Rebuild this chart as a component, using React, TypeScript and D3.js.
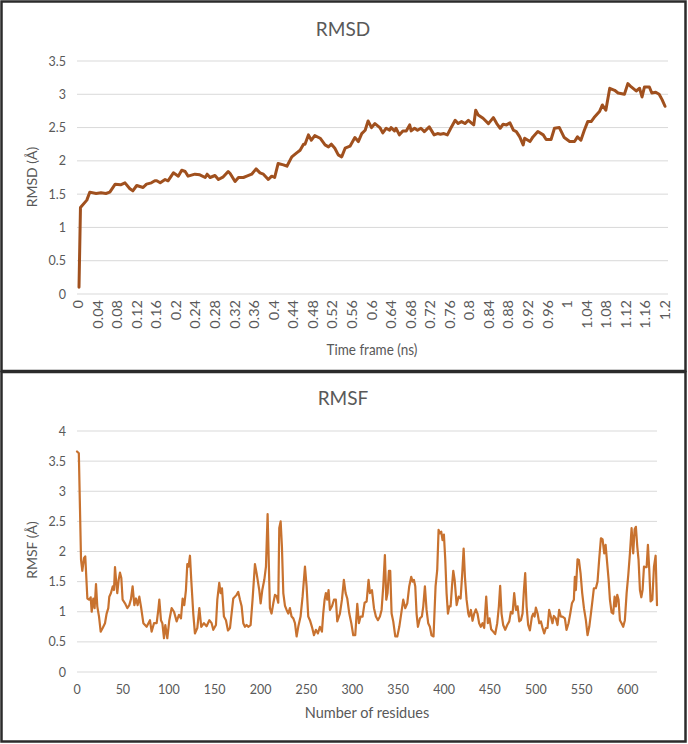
import React from "react";
import * as d3 from "d3";

// ---------- RMSD data (time in ns, value in Å) ----------
const rmsdTime = [
  0, 0.003, 0.016, 0.022, 0.035, 0.045, 0.055, 0.063, 0.074, 0.085, 0.094, 0.104, 0.11, 0.118, 0.131, 0.138,
  0.148, 0.155, 0.159, 0.166, 0.176, 0.182, 0.193, 0.203, 0.21, 0.217, 0.223, 0.237, 0.247, 0.258, 0.262,
  0.268, 0.278, 0.285, 0.295, 0.305, 0.309, 0.319, 0.326, 0.336, 0.343, 0.353, 0.362, 0.37, 0.377, 0.387,
  0.394, 0.4, 0.407, 0.418, 0.425, 0.435, 0.445, 0.452, 0.459, 0.462, 0.469, 0.475, 0.482, 0.493, 0.503,
  0.51, 0.516, 0.523, 0.53, 0.537, 0.544, 0.554, 0.564, 0.571, 0.578, 0.585, 0.591, 0.598, 0.605, 0.615,
  0.621, 0.628, 0.635, 0.638, 0.645, 0.648, 0.655, 0.662, 0.669, 0.676, 0.679, 0.686, 0.692, 0.699, 0.706,
  0.716, 0.726, 0.733, 0.739, 0.746, 0.753, 0.76, 0.769, 0.775, 0.782, 0.789, 0.796, 0.802, 0.807, 0.811,
  0.816, 0.826, 0.837, 0.847, 0.854, 0.861, 0.867, 0.874, 0.881, 0.888, 0.894, 0.901, 0.908, 0.911, 0.922,
  0.928, 0.938, 0.949, 0.955, 0.965, 0.972, 0.982, 0.992, 1.003, 1.013, 1.019, 1.026, 1.033, 1.04, 1.047,
  1.053, 1.064, 1.07, 1.077, 1.085, 1.095, 1.102, 1.115, 1.122, 1.129, 1.139, 1.146, 1.151, 1.156, 1.166,
  1.171, 1.179, 1.186, 1.192, 1.198,
];
const rmsdValue = [
  0.1, 1.3, 1.41, 1.53, 1.51, 1.52, 1.51, 1.53, 1.65, 1.64, 1.67, 1.58, 1.55, 1.63, 1.6, 1.65,
  1.67, 1.7, 1.7, 1.67, 1.72, 1.7, 1.82, 1.77, 1.86, 1.84, 1.77, 1.8, 1.79, 1.75, 1.8,
  1.75, 1.78, 1.72, 1.76, 1.84, 1.81, 1.69, 1.75, 1.75, 1.77, 1.8, 1.88, 1.82, 1.8, 1.72,
  1.77, 1.75, 1.96, 1.94, 1.92, 2.06, 2.12, 2.16, 2.25, 2.25, 2.39, 2.31, 2.38, 2.34, 2.24,
  2.21, 2.25, 2.19, 2.09, 2.06, 2.19, 2.22, 2.35, 2.29, 2.41, 2.46, 2.6, 2.5, 2.56, 2.5,
  2.42, 2.49, 2.46, 2.5, 2.45, 2.49, 2.39, 2.45, 2.45, 2.54, 2.45, 2.49, 2.46, 2.49, 2.44,
  2.51, 2.39, 2.41, 2.4, 2.41, 2.39, 2.49, 2.61, 2.56, 2.59, 2.56, 2.61, 2.57, 2.54, 2.76,
  2.69, 2.64, 2.56, 2.65, 2.56, 2.49, 2.55, 2.54, 2.57, 2.46, 2.44, 2.36, 2.24, 2.34, 2.29,
  2.36, 2.44, 2.39, 2.32, 2.32, 2.49, 2.5, 2.35, 2.29, 2.29, 2.36, 2.31, 2.46, 2.59, 2.59,
  2.65, 2.74, 2.84, 2.76, 3.09, 3.06, 3.02, 3.0, 3.16, 3.11, 3.05, 3.09, 2.96, 3.11, 3.11,
  3.02, 3.03, 3.0, 2.92, 2.82,
];
const rmsdYTicks = [0, 0.5, 1, 1.5, 2, 2.5, 3, 3.5];
const rmsdXTicks = d3.range(0, 31).map((i) => +(i * 0.04).toFixed(2));

// ---------- RMSF data (residue number, value in Å) ----------
const rmsfResidue = [
  0, 2, 4.4, 5.8, 7.6, 9, 11.3, 13.4, 14.9, 16, 17.8, 19.2, 20.7, 22.1, 24, 25.8, 28, 30.5, 32.3, 34.1,
  35.2, 37, 38.9, 40.3, 41.4, 42.8, 43.9, 45.4, 46.8, 48.3, 49.7, 52.3, 54.8, 57, 58.8, 60.6, 62.5, 64.3,
  66.1, 67.9, 69.7, 72.3, 75.9, 79.5, 81.3, 83.9, 86.8, 88.6, 89.7, 91.5, 93, 94.8, 96.2, 98.4, 100.6,
  103.1, 105.7, 108.6, 111.1, 113.3, 115.1, 116.9, 118.7, 120.2, 121.6, 123.1, 124.5, 126.7, 128.5, 131.1,
  133.3, 135.4, 138.3, 141.2, 144.2, 146.7, 148.5, 151.4, 152.9, 155, 156.5, 158, 160.1, 162.3, 164.5,
  166.7, 170.3, 173.9, 175.7, 177.6, 179.4, 181.2, 183, 184.8, 186.6, 189.2, 191.3, 193.9, 195.7, 198.6,
  200.1, 201.9, 204.1, 205.9, 207.7, 209.1, 210.2, 212, 213.9, 215.7, 217.5, 219.3, 220.4, 221.9, 223.3,
  224.8, 226.6, 228.4, 230.2, 232, 233.8, 235.7, 237.5, 239.3, 241.1, 243.6, 245.8, 248.4, 250.2, 252,
  253.8, 256, 258.2, 260.3, 262.5, 264.7, 266.9, 268.3, 269.8, 271.2, 272.7, 274.1, 275.6, 277.8, 280,
  282.1, 283.6, 286.5, 288.7, 290.8, 292.7, 294.5, 296.7, 298.9, 301, 303.2, 305.4, 307.2, 309, 311.2,
  313.4, 315.6, 317.7, 319.2, 321.4, 323.6, 325.7, 327.9, 330.1, 331.9, 333.7, 335.5, 337, 338.4, 339.9,
  341.3, 342.8, 344.6, 346.8, 349, 351.2, 353.3, 355.5, 357.7, 359.9, 362, 364.2, 365.7, 367.1, 368.6,
  370, 371.5, 373.7, 375.8, 377.3, 379.1, 380.9, 382.7, 384.5, 386.3, 388.5, 390.7, 392.5, 394, 395.4,
  396.9, 398.3, 399.8, 401.3, 402.7, 404.2, 405.7, 407.1, 408.6, 410, 411.5, 413.7, 415.8, 418, 419.8,
  421.3, 422.7, 424.5, 426.4, 427.4, 429.2, 431, 432.8, 434.6, 436.4, 438.2, 440, 441.9, 443.7, 445.9,
  447.7, 449.5, 451.3, 453.5, 455.7, 457.9, 459.7, 461.1, 462.6, 464.4, 466.6, 468.8, 471, 472.8, 474.6,
  476.4, 478.3, 480.1, 481.9, 483.7, 485.5, 487, 488.4, 489.9, 491.6, 493.5, 495.7, 497.1, 498.6, 500,
  501.9, 503.7, 505.5, 507.3, 509.1, 510.9, 512.7, 514.5, 516.3, 518.1, 519.6, 521.8, 523.6, 525.4, 527.2,
  529, 531.6, 533.4, 535.6, 537.5, 539.3, 541.4, 542.5, 543.6, 545.4, 546.9, 548.7, 550.5, 552.4, 554.5,
  556.3, 558.2, 560, 561.8, 563.2, 565.4, 567.2, 569, 570.9, 572.7, 574.5, 576, 577.4, 579.3, 580.7,
  582.5, 584.3, 585.8, 587.2, 588.7, 590.1, 591.6, 593.4, 595.2, 597, 598.9, 600.7, 602.5, 604.3, 606.1,
  607.6, 609, 610.5, 611.9, 613.4, 614.9, 616.3, 617.8, 619.2, 620.7, 622.1, 623.6, 625, 626.9, 628.7,
  630.5, 632,
];
const rmsfValue = [
  3.66, 3.63, 1.86, 1.68, 1.89, 1.92, 1.22, 1.2, 1.24, 1.0, 1.22, 1.06, 1.46, 1.09, 0.92, 0.67, 0.73, 0.81, 0.97, 1.06,
  1.25, 1.31, 1.42, 1.36, 1.74, 1.48, 1.31, 1.53, 1.65, 1.56, 1.2, 1.14, 1.06, 1.11, 1.21, 1.42, 1.11, 1.22,
  1.11, 1.25, 1.09, 0.81, 0.75, 0.86, 0.67, 0.81, 0.81, 1.03, 1.2, 0.86, 0.81, 0.56, 0.78, 0.56, 0.86,
  1.06, 1.0, 0.84, 0.95, 0.89, 1.22, 1.11, 1.36, 1.79, 1.75, 1.93, 1.53, 0.97, 0.64, 0.73,
  1.06, 0.75, 0.81, 0.76, 0.86, 0.81, 0.7, 0.78, 1.2, 1.48, 1.31, 1.39, 0.92, 0.86, 0.69,
  0.73, 1.22, 1.28, 1.33, 1.2, 1.09, 0.81, 0.75, 0.78, 0.75, 0.78, 1.2, 1.79, 1.64, 1.36,
  1.14, 1.36, 1.53, 1.75, 2.62, 1.75, 1.06, 0.97, 1.14, 1.28, 1.26, 1.15, 2.39, 2.5, 2.08,
  1.31, 1.1, 1.03, 0.97, 1.06, 0.92, 0.89, 0.81, 0.59, 0.75, 0.92, 1.25, 1.75, 1.42, 0.92,
  0.86, 0.75, 0.61, 0.7, 0.64, 0.75, 0.67, 0.97, 1.2, 1.31, 1.2, 1.36, 1.03, 1.09, 1.2,
  1.2, 0.84, 0.97, 1.2, 1.53, 1.31, 1.22, 0.97, 0.81, 0.61, 0.61, 1.13, 0.81, 0.92, 0.92,
  1.15, 1.17, 1.53, 1.31, 1.36, 1.06, 0.92, 0.86, 0.92, 1.03, 1.42, 1.94, 1.2, 1.31, 1.68,
  1.68, 0.97, 0.84, 0.59, 0.59, 0.75, 0.97, 1.2, 1.06, 1.14, 1.42, 1.58, 1.5, 1.53, 1.42,
  0.97, 0.75, 0.89, 0.92, 1.09, 1.42, 1.03, 0.81, 0.75, 0.61, 0.59, 1.42, 1.69, 2.36, 2.3,
  2.33, 2.19, 2.28, 1.86, 1.31, 0.97, 1.09, 1.09, 1.42, 1.68, 1.53, 1.11, 1.25, 1.22, 1.64,
  2.05, 1.58, 1.2, 0.97, 0.92, 1.03, 0.85, 0.97, 1.04, 0.97, 0.81, 0.75, 0.81, 0.73, 1.25,
  0.81, 0.89, 0.71, 0.67, 0.63, 0.81, 1.09, 1.43, 0.97, 0.78, 0.7, 0.78, 0.84, 1.0, 0.97,
  1.31, 1.03, 1.09, 0.84, 0.86, 0.97, 1.36, 1.64, 1.09, 0.78, 0.69, 0.92, 0.97, 0.92, 1.07,
  0.97, 0.81, 0.84, 0.73, 0.64, 0.73, 0.73, 1.03, 0.92, 0.81, 0.93, 0.89, 0.78, 1.03, 0.92,
  0.92, 0.89, 0.7, 0.81, 0.97, 1.14, 1.2, 1.58, 1.36, 1.87, 1.86, 1.64, 1.31, 1.06, 0.86,
  0.61, 0.75, 0.97, 1.2, 1.39, 1.39, 1.5, 1.87, 2.22, 2.2, 1.97, 2.11, 1.86, 1.53, 1.2,
  0.99, 0.97, 1.25, 1.09, 1.28, 1.2, 0.86, 0.81, 0.75, 0.86, 1.31, 1.61, 1.97, 2.39, 1.97,
  2.37, 2.41, 2.08, 1.86, 1.36, 1.24, 1.36, 1.75, 1.74, 1.74, 2.11, 1.69, 1.17, 1.2, 1.75,
  1.93, 1.11,
];
const rmsfYTicks = [0, 0.5, 1, 1.5, 2, 2.5, 3, 3.5, 4];
const rmsfXTicks = [0, 50, 100, 150, 200, 250, 300, 350, 400, 450, 500, 550, 600];

const FONT = "Lato, 'Open Sans', sans-serif";
const TEXT = "#595959";
const GRID = "#D9D9D9";

export default function App() {
  // Top panel scales
  const xT = d3.scaleLinear().domain([0, 1.2]).range([79, 666]);
  const yT = d3.scaleLinear().domain([0, 3.5]).range([294, 61]);
  const lineT = d3
    .line<number>()
    .x((_, i) => xT(rmsdTime[i]))
    .y((d) => yT(d));

  // Bottom panel scales
  const xB = d3.scaleLinear().domain([0, 632]).range([77, 657]);
  const yB = d3.scaleLinear().domain([0, 4]).range([672, 431]);
  const lineB = d3
    .line<number>()
    .x((_, i) => xB(rmsfResidue[i]))
    .y((d) => yB(d));

  return (
    <svg
      width={688}
      height={744}
      style={{ position: "absolute", left: 0, top: 0, background: "#fff" }}
      fontFamily={FONT}
    >
      <rect x={0} y={0} width={688} height={744} fill="#fff" />

      {/* ---------- Top panel: RMSD ---------- */}
      <rect x={1.5} y={1.5} width={684} height={369.5} fill="none" stroke="#2b2b2b" strokeWidth={2.5} />
      <text x={343} y={36} textAnchor="middle" fontSize={19} fill={TEXT}>
        RMSD
      </text>
      {rmsdYTicks.map((t) => (
        <g key={"gt" + t}>
          <line x1={77} x2={668} y1={yT(t)} y2={yT(t)} stroke={GRID} strokeWidth={1} />
          <text x={66} y={yT(t) + 4.5} textAnchor="end" fontSize={12.5} fill={TEXT}>
            {t}
          </text>
        </g>
      ))}
      {rmsdXTicks.map((t) => (
        <text
          key={"xt" + t}
          transform={`translate(${xT(t) + 4},${300}) rotate(-90) scale(1,0.88)`}
          textAnchor="end"
          fontSize={14.5}
          fill={TEXT}
        >
          {t}
        </text>
      ))}
      <text
        transform={`translate(37,177) rotate(-90)`}
        textAnchor="middle"
        fontSize={14}
        fill={TEXT}
      >
        RMSD (Å)
      </text>
      <text
        transform="translate(372,355) scale(0.9,1)"
        textAnchor="middle"
        fontSize={15}
        fill={TEXT}
      >
        Time frame (ns)
      </text>
      <path
        d={lineT(rmsdValue) || ""}
        fill="none"
        stroke="#A0501E"
        strokeWidth={3}
        strokeLinejoin="round"
        strokeLinecap="round"
      />

      {/* ---------- Bottom panel: RMSF ---------- */}
      <rect x={1.5} y={372} width={684} height={369.5} fill="none" stroke="#2b2b2b" strokeWidth={2.5} />
      <text x={343} y={405} textAnchor="middle" fontSize={19} fill={TEXT}>
        RMSF
      </text>
      {rmsfYTicks.map((t) => (
        <g key={"gb" + t}>
          <line x1={77} x2={657} y1={yB(t)} y2={yB(t)} stroke={GRID} strokeWidth={1} />
          <text x={66} y={yB(t) + 4.5} textAnchor="end" fontSize={12.5} fill={TEXT}>
            {t}
          </text>
        </g>
      ))}
      {rmsfXTicks.map((t) => (
        <text key={"xb" + t} x={xB(t)} y={694} textAnchor="middle" fontSize={12.5} fill={TEXT}>
          {t}
        </text>
      ))}
      <text
        transform={`translate(37,550) rotate(-90)`}
        textAnchor="middle"
        fontSize={14}
        fill={TEXT}
      >
        RMSF (Å)
      </text>
      <text x={367} y={718} textAnchor="middle" fontSize={14.5} fill={TEXT}>
        Number of residues
      </text>
      <path
        d={lineB(rmsfValue) || ""}
        fill="none"
        stroke="#C8722F"
        strokeWidth={2.2}
        strokeLinejoin="round"
        strokeLinecap="round"
      />
    </svg>
  );
}
